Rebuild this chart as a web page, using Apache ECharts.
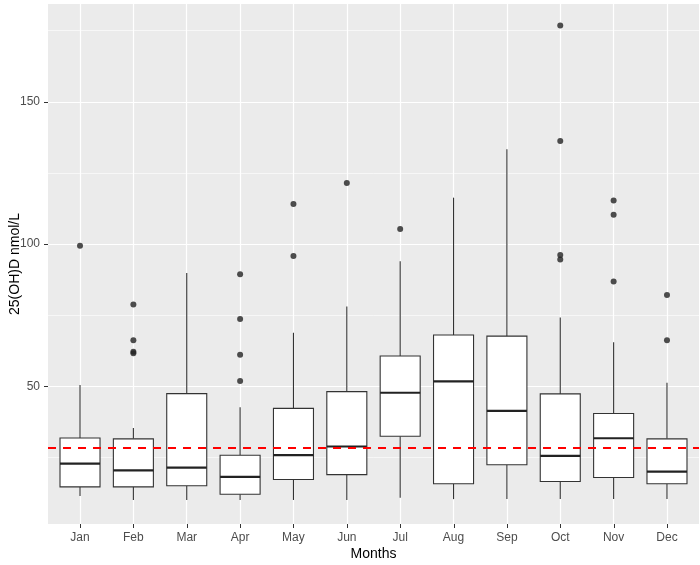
<!DOCTYPE html>
<html>
<head>
<meta charset="utf-8">
<script src="https://cdn.jsdelivr.net/npm/echarts@6/dist/echarts.min.js"></script>
<style>html,body{margin:0;padding:0;background:#fff}#c{width:700px;height:565px}</style>
</head>
<body>
<div id="c"></div>
<script>
const months = ['Jan','Feb','Mar','Apr','May','Jun','Jul','Aug','Sep','Oct','Nov','Dec'];
// [lower whisker, Q1, median, Q3, upper whisker]
const whiskerLow = [11.4, 10.0, 10.0, 10.0, 10.0, 10.0, 10.8, 10.3, 10.3, 10.3, 10.3, 10.3];
const q1 =         [14.6, 14.6, 15.0, 12.0, 17.2, 18.9, 32.4, 15.7, 22.4, 16.5, 17.9, 15.7];
const medians =    [22.8, 20.4, 21.4, 18.1, 25.8, 28.8, 47.7, 51.7, 41.3, 25.5, 31.7, 20.0];
const q3 =         [31.8, 31.5, 47.4, 25.7, 42.2, 48.1, 60.6, 68.0, 67.6, 47.3, 40.4, 31.5];
const whiskerHigh =[50.4, 35.3, 89.8, 42.6, 68.8, 78.0, 93.9, 116.3, 133.3, 74.2, 65.5, 51.2];
const outliers = {
  Jan: [99.4],
  Feb: [78.7, 66.2, 62.1, 61.6],
  Apr: [89.4, 73.6, 61.1, 51.8],
  May: [114.1, 95.8],
  Jun: [121.5],
  Jul: [105.3],
  Oct: [176.8, 136.2, 96.1, 94.6],
  Nov: [115.3, 110.3, 86.8],
  Dec: [82.1, 66.2]
};
const threshold = 28.4;
const yMin = 1.55, yMax = 184.4;
const yLabelTicks = [50, 100, 150];
const majorGrid = [50, 100, 150];
const minorGrid = [25, 75, 125, 175];
const monthIdx = months.map((m, i) => i);

const boxData = months.map((m, i) => [i, whiskerLow[i], q1[i], medians[i], q3[i], whiskerHigh[i]]);
const outlierData = [];
months.forEach((m, i) => { (outliers[m] || []).forEach(v => outlierData.push([i, v])); });

const chart = echarts.init(document.getElementById('c'));
const font = 'Liberation Sans, Arial, sans-serif';
chart.setOption({
  animation: false,
  textStyle: { fontFamily: font },
  grid: { left: 48, right: 1, top: 4, bottom: 41, show: true, backgroundColor: '#EBEBEB', borderWidth: 0,
          containLabel: false, outerBoundsMode: 'none' },
  xAxis: {
    type: 'value', min: -0.6, max: 11.6,
    axisLine: { show: false, onZero: false },
    axisTick: { show: false },
    axisLabel: { color: '#4d4d4d', fontSize: 12, margin: 8, fontFamily: font, customValues: monthIdx,
                 formatter: v => months[Math.round(v)] },
    splitLine: { show: false },
    name: 'Months', nameLocation: 'middle', nameGap: 23, nameMoveOverlap: false,
    nameTextStyle: { color: '#000', fontSize: 14, fontFamily: font }
  },
  yAxis: {
    type: 'value', min: yMin, max: yMax,
    axisLine: { show: false, onZero: false },
    axisTick: { show: true, length: 4, customValues: yLabelTicks, lineStyle: { color: '#333', width: 1 } },
    axisLabel: { color: '#4d4d4d', fontSize: 12, margin: 8, customValues: yLabelTicks, fontFamily: font },
    splitLine: { show: false },
    name: '25(OH)D nmol/L', nameLocation: 'middle', nameGap: 26, nameMoveOverlap: false,
    nameTextStyle: { color: '#000', fontSize: 14, fontFamily: font }
  },
  series: [
    {
      type: 'line', data: [], z: 1, silent: true,
      markLine: {
        z: 1, silent: true, symbol: 'none', animation: false, label: { show: false },
        data: [
          ...minorGrid.map(v => ({ yAxis: v, lineStyle: { color: '#fff', width: 0.6, type: 'solid' } })),
          ...majorGrid.map(v => ({ yAxis: v, lineStyle: { color: '#fff', width: 1.2, type: 'solid' } })),
          ...monthIdx.map(i => ({ xAxis: i, lineStyle: { color: '#fff', width: 1.2, type: 'solid' } }))
        ]
      }
    },
    {
      type: 'custom', z: 3, data: boxData,
      renderItem: function (params, api) {
        const x = api.value(0);
        const pLo = api.coord([x, api.value(1)]);
        const pQ1 = api.coord([x, api.value(2)]);
        const pMed = api.coord([x, api.value(3)]);
        const pQ3 = api.coord([x, api.value(4)]);
        const pHi = api.coord([x, api.value(5)]);
        const w = api.size([1, 0])[0] * 0.75;
        const cx = pMed[0];
        const stroke = { stroke: '#333', lineWidth: 1.1 };
        return {
          type: 'group',
          children: [
            { type: 'line', shape: { x1: cx, y1: pHi[1], x2: cx, y2: pQ3[1] }, style: stroke },
            { type: 'line', shape: { x1: cx, y1: pQ1[1], x2: cx, y2: pLo[1] }, style: stroke },
            { type: 'rect', shape: { x: cx - w / 2, y: pQ3[1], width: w, height: pQ1[1] - pQ3[1] }, style: { fill: '#fff', stroke: '#333', lineWidth: 1.1 } },
            { type: 'line', shape: { x1: cx - w / 2, y1: pMed[1], x2: cx + w / 2, y2: pMed[1] }, style: { stroke: '#222', lineWidth: 2.2 } }
          ]
        };
      }
    },
    {
      type: 'scatter', z: 4, data: outlierData, symbol: 'circle', symbolSize: 6,
      itemStyle: { color: '#222' }, silent: true
    },
    {
      type: 'line', data: [], z: 5, silent: true,
      markLine: {
        z: 6, silent: true, symbol: 'none', animation: false, label: { show: false },
        data: [{ yAxis: threshold }],
        lineStyle: { color: '#FF0000', width: 2.2, type: [8, 7] }
      }
    }
  ]
});
// x-axis tick marks, positioned through the axis scale
const tickElems = monthIdx.map(i => {
  const p = chart.convertToPixel({ gridIndex: 0 }, [i, yMin]);
  const x = Math.round(p[0]) + 0.5;
  return { type: 'line', z: 100, silent: true,
           shape: { x1: x, y1: p[1], x2: x, y2: p[1] + 4 },
           style: { stroke: '#333', lineWidth: 1 } };
});
chart.setOption({ graphic: { elements: tickElems } });
</script>
</body>
</html>
